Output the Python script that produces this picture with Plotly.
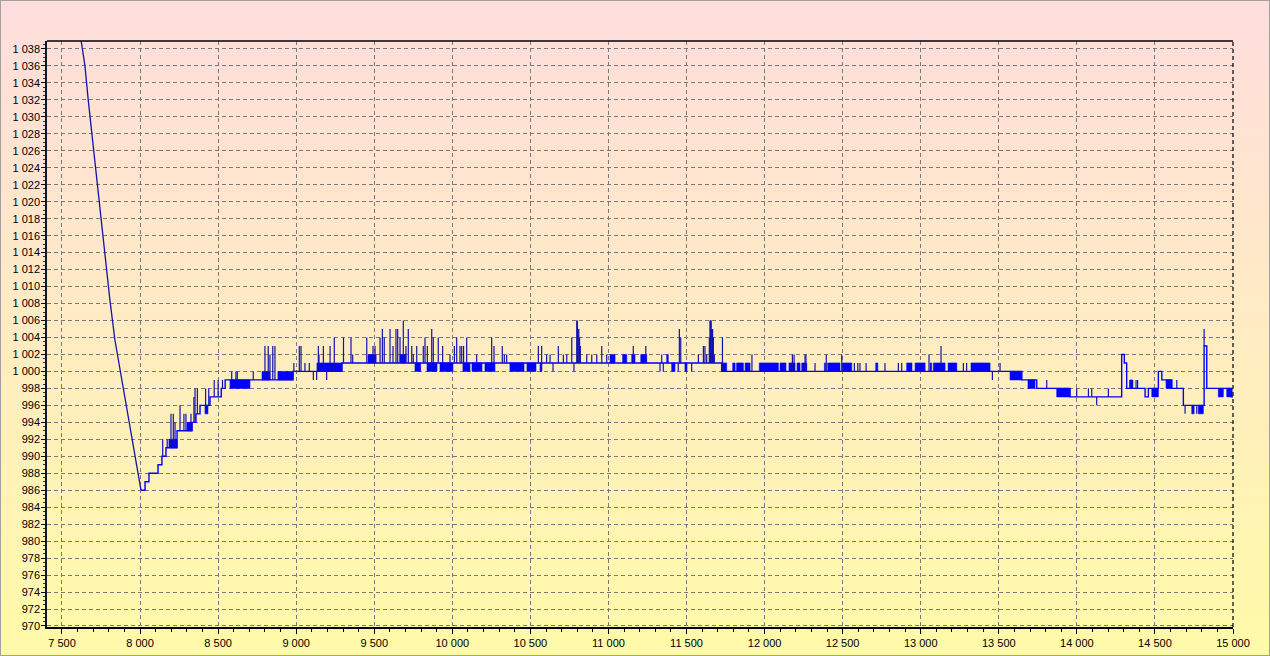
import bisect
import plotly.graph_objects as go

# ---------------- data ----------------
# steep initial descent (vertices)
DESC_X = [7620, 7632, 7647, 7668, 7740, 7807, 7839, 7914, 7978, 8006]
DESC_Y = [1039.3, 1038, 1036, 1032, 1019.5, 1008.4, 1003.7, 995.8, 989.2, 986]

# base level of the step series (change points)
BASE_X = [8006, 8032, 8057, 8115, 8140, 8166, 8237, 8333, 8358, 8384, 8448, 8520, 8545,
          8980, 9293, 11725, 13647, 13743, 13956, 14287, 14304, 14319, 14437, 14458,
          14522, 14544, 14608, 14682, 14815, 14832, 14992, 15000]
BASE_Y = [986, 987, 988, 989, 990, 991, 993, 994, 995, 996, 997, 998, 999,
          1000, 1001, 1000, 999, 998, 997, 1002, 1001, 998, 997, 998,
          1000, 999, 998, 996, 1003, 998, 997, 997]

# single-sample spikes away from the base level
SPIKE_X = [8145, 8174, 8198, 8213, 8224, 8256, 8281, 8294, 8326, 8345, 8352, 8367, 8420, 8440,
           8475, 8500, 8528, 8587, 8614, 8623, 8725, 8800, 8821, 8832, 8850, 8864, 8985, 9020,
           9031, 9056, 9084, 9110, 9131, 9142, 9146, 9174, 9195, 9217, 9244, 9303,
           9351, 9362, 9452, 9492, 9505, 9537, 9552, 9564, 9601, 9620, 9639, 9650, 9665, 9676,
           9686, 9703, 9718, 9740, 9750, 9772, 9814, 9825, 9840, 9868, 9878, 9910, 9938, 9985,
           10013, 10028, 10049, 10060, 10072, 10092, 10156, 10252, 10267, 10320, 10333, 10348,
           10551, 10572, 10604, 10626, 10645, 10679, 10711, 10733, 10765, 10779, 10797, 10801,
           10805, 10810, 10815, 10820, 10861, 10893, 10925, 10957, 10989, 11159, 11239, 11330,
           11341, 11351, 11447, 11454, 11463, 11533, 11576, 11608, 11618, 11629, 11646, 11650,
           11654, 11658, 11662, 11667, 11672, 11678, 11730,
           11919, 12178, 12189, 12259, 12265, 12323, 12395, 12494, 12575, 12597, 12611, 12650,
           12771, 12857, 12878, 13053, 13130, 13273, 13294, 13459, 13508, 13807, 13999, 14074,
           14095, 14127, 14202, 14340, 14357, 14379, 14389, 14640, 14693, 14768, 14815]
SPIKE_Y = [992, 992, 995, 995, 994, 996, 995, 995, 995, 997, 998, 998, 998, 998,
           999, 999, 999, 1000, 1000, 1000, 1000, 1003, 1003, 1002, 1003, 1003, 1001, 1003,
           1003, 1001, 1001, 999, 999, 1003, 1002, 1003, 999, 1003, 1004, 1004,
           1004, 1002, 1004, 1003, 1003, 1004, 1005, 1004, 1005, 1003, 1005, 1005, 1004, 1002,
           1006, 1003, 1005, 1003, 1002, 1003, 1003, 1004, 1003, 1005, 1004, 1004, 1003, 1002,
           1003, 1004, 1003, 1003, 1003, 1004, 1002, 1004, 1003, 1003, 1002, 1002,
           1003, 1003, 1002, 1002, 1000, 1003, 1002, 1002, 1004, 1000, 1006, 1006,
           1005, 1005, 1004, 1003, 1002, 1002, 1002, 1003, 1002, 1003, 1003, 1000,
           1002, 1000, 1000, 1005, 1004, 1000, 1002, 1003, 1003, 1002, 1004, 1006,
           1006, 1006, 1005, 1005, 1004, 1002, 1004,
           1002, 1002, 1002, 1002, 1002, 1001, 1002, 1002, 1001, 1001, 1001, 1001,
           1001, 1001, 1001, 1002, 1003, 1001, 1001, 999, 1001, 999, 998, 998,
           998, 996, 998, 999, 999, 999, 999, 999, 995, 995, 1005]

# dense flicker bands between the base level and a neighbouring level
BAND_X0 = [8185, 8301, 8416, 8576, 8781, 8883, 9133,
           9460, 9665, 9761, 9838, 9921, 10068, 10126, 10209, 10369, 10478, 10562,
           11010, 11091, 11149, 11207, 11373, 11405, 11490,
           11725, 11796, 11821, 11875, 11966, 12099, 12156, 12208, 12238, 12383, 12404, 12498,
           12712, 12910, 12964, 13060, 13081, 13175, 13322, 13572, 13687, 13871, 14340,
           14480, 14571, 14736, 14778, 14906, 14960]
BAND_X1 = [8237, 8333, 8435, 8704, 8832, 8980, 9293,
           9512, 9703, 9797, 9902, 10004, 10113, 10190, 10273, 10459, 10536, 10574,
           11042, 11117, 11170, 11245, 11383, 11426, 11503,
           11757, 11811, 11864, 11907, 12088, 12137, 12195, 12227, 12270, 12391, 12483, 12558,
           12725, 12944, 13028, 13070, 13156, 13231, 13444, 13647, 13732, 13956, 14357,
           14522, 14608, 14751, 14810, 14938, 14992]
BAND_Y = [992, 994, 995, 998, 1000, 1000, 1001,
          1002, 1002, 1000, 1000, 1000, 1000, 1000, 1000, 1000, 1000, 1000,
          1002, 1002, 1002, 1002, 1002, 1000, 1000,
          1001, 1001, 1001, 1001, 1001, 1001, 1001, 1001, 1001, 1001, 1001, 1001,
          1001, 1001, 1001, 1001, 1001, 1001, 1001, 999, 998, 997, 999,
          997, 998, 995, 995, 997, 997]

X_RANGE = [7404, 15000]
Y_RANGE = [969.88, 1038.94]

# ---------------- build ----------------
def base_at(x):
    i = bisect.bisect_right(BASE_X, x) - 1
    return BASE_Y[max(i, 0)]

sx, sy = [], []
for x, y in zip(SPIKE_X, SPIKE_Y):
    sx += [x, x, None]
    sy += [base_at(x), y, None]

bx, by = [], []
for x0, x1, y in zip(BAND_X0, BAND_X1, BAND_Y):
    b = base_at(x0)
    bx += [x0, x1, x1, x0, x0, None]
    by += [b, b, y, y, b, None]

BLUE = "#0000FF"
NAVY = "#1212B0"

fig = go.Figure()
fig.add_trace(go.Scatter(x=bx, y=by, mode="lines", fill="toself", fillcolor=BLUE,
                         line=dict(color=BLUE, width=0.6), hoverinfo="skip", showlegend=False))
fig.add_trace(go.Scatter(x=BASE_X, y=BASE_Y, mode="lines", line=dict(color=BLUE, width=1.4, shape="hv"),
                         showlegend=False))
fig.add_trace(go.Scatter(x=sx, y=sy, mode="lines", line=dict(color=NAVY, width=1.2),
                         hoverinfo="skip", showlegend=False))
fig.add_trace(go.Scatter(x=DESC_X, y=DESC_Y, mode="lines", line=dict(color=NAVY, width=1.3),
                         showlegend=False))

# background gradient (pink top -> yellow bottom) over the whole figure
W, H = 1270, 656
L, R, T, B = 47, 37, 41, 29
pw, ph = W - L - R, H - T - B
top_c = (255, 221, 221)
bot_c = (255, 250, 168)
N = 82
shapes = []
y_top = 1 + T / ph
y_bot = -B / ph
step = (y_top - y_bot) / N
for i in range(N):
    t = i / (N - 1)
    c = tuple(round(top_c[k] + (bot_c[k] - top_c[k]) * t) for k in range(3))
    y1 = y_top - i * step
    shapes.append(dict(type="rect", xref="paper", yref="paper", x0=-L / pw - 0.01, x1=1 + R / pw + 0.01,
                       y0=y1 - step * 1.05, y1=y1 + 0.001, fillcolor="rgb(%d,%d,%d)" % c,
                       line=dict(width=0), layer="below"))
# plot frame: top solid, right dashed
shapes.append(dict(type="line", xref="paper", yref="paper", x0=0, x1=1, y0=1, y1=1,
                   line=dict(color="black", width=1.5), layer="above"))
shapes.append(dict(type="line", xref="paper", yref="paper", x0=1, x1=1, y0=0, y1=1,
                   line=dict(color="black", width=1.2, dash="4px,3px"), layer="above"))
# outer grey border
shapes.append(dict(type="rect", xref="paper", yref="paper", x0=-L / pw, x1=1 + R / pw,
                   y0=-B / ph, y1=1 + T / ph, line=dict(color="#A0A0A0", width=2),
                   fillcolor="rgba(0,0,0,0)", layer="above"))

FONT = dict(family="Liberation Sans, Arial, sans-serif", size=11, color="#000000")
fig.update_layout(
    width=W, height=H, autosize=False,
    margin=dict(l=L, r=R, t=T, b=B, pad=0),
    paper_bgcolor="#FFF4C8", plot_bgcolor="rgba(0,0,0,0)",
    separators=". ",
    shapes=shapes,
    font=FONT,
    showlegend=False,
    xaxis=dict(range=X_RANGE, tick0=0, dtick=500, tickformat=",d", automargin=False,
               showgrid=True, gridcolor="#7A7A7A", gridwidth=1, griddash="4px,3px",
               zeroline=False, showline=True, linecolor="black", linewidth=2,
               ticks="outside", ticklen=5, tickcolor="black", tickfont=FONT,
               minor=dict(dtick=100, ticks="outside", ticklen=3, tickcolor="black", showgrid=False)),
    yaxis=dict(range=Y_RANGE, tick0=0, dtick=2, tickformat=",d", automargin=False,
               ticklabelstandoff=-1,
               showgrid=True, gridcolor="#7A7A7A", gridwidth=1, griddash="4px,3px",
               zeroline=False, showline=True, linecolor="#101828", linewidth=1.5,
               ticks="outside", ticklen=4, tickcolor="black", tickfont=FONT,
               minor=dict(dtick=0.5, ticks="outside", ticklen=2, tickcolor="#333333", showgrid=False)),
)

fig.write_html("out.html", config={"displayModeBar": False},
               post_script="document.body.style.margin='0px';document.body.style.overflow='hidden';")
